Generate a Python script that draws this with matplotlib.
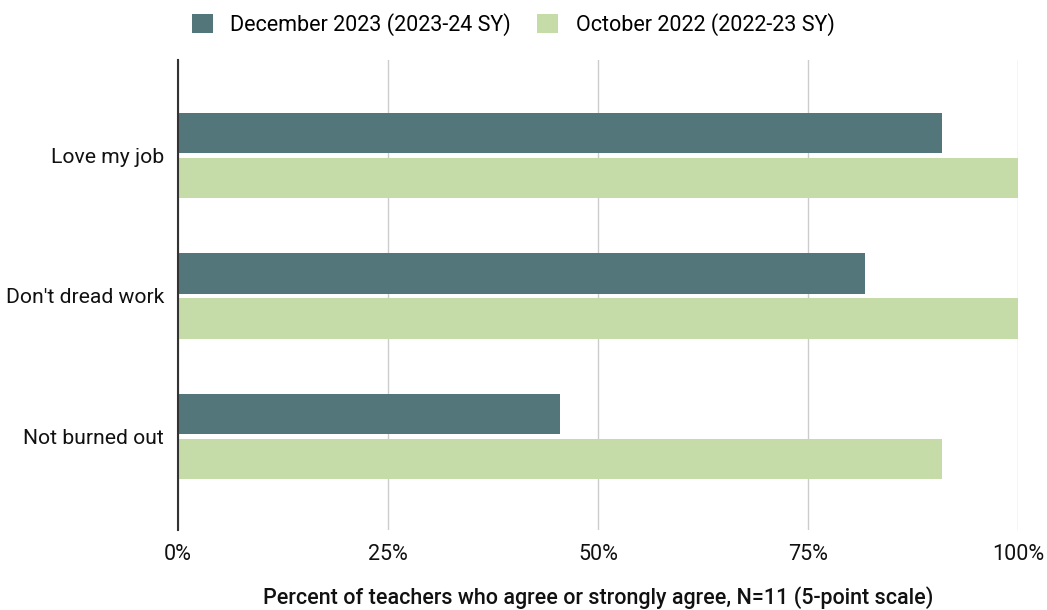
import numpy as np
import matplotlib.pyplot as plt
from matplotlib.ticker import PercentFormatter

plt.rcParams['font.family'] = ['Roboto', 'DejaVu Sans']

categorias = ["Love my job", "Don't dread work", "Not burned out"]
dic_2023 = [90.91, 81.82, 45.45]
oct_2022 = [100.0, 100.0, 90.91]
series = ["December 2023 (2023-24 SY)", "October 2022 (2022-23 SY)"]
ticks_x = [0, 25, 50, 75, 100]

color_dic = "#53767a"
color_oct = "#c5dba8"

fig = plt.figure(figsize=(10.47, 6.10), dpi=100)
ax = fig.add_axes([0.170, 0.131, 0.8023, 0.771])

y = np.arange(len(categorias))
h = 0.285
ax.barh(y - 0.16, dic_2023, height=h, color=color_dic, label=series[0], zorder=3)
ax.barh(y + 0.16, oct_2022, height=h, color=color_oct, label=series[1], zorder=3)

ax.set_xlim(0, 100)
ax.set_ylim(2.665, -0.68)
ax.set_xticks(ticks_x)
ax.xaxis.set_major_formatter(PercentFormatter(decimals=0))
ax.set_yticks(y)
ax.set_yticklabels(categorias, fontsize=15.2, color="#111111")
ax.tick_params(axis='x', labelsize=15.5, colors="#111111", length=0, pad=10)
ax.tick_params(axis='y', length=0, pad=10)
ax.grid(axis='x', color="#cccccc", linewidth=1, zorder=0)

for s in ['top', 'right', 'bottom']:
    ax.spines[s].set_visible(False)
ax.spines['left'].set_color("#333333")
ax.spines['left'].set_linewidth(1.5)
ax.spines['left'].set_zorder(4)

ax.set_xlabel("Percent of teachers who agree or strongly agree, N=11 (5-point scale)",
              fontsize=15.5, fontweight='medium', color="#111111", labelpad=15)

fig.legend(loc='upper center', bbox_to_anchor=(0.49, 1.01), ncol=2, frameon=False,
           fontsize=15.5, handlelength=1.0, handleheight=1.0, columnspacing=1.2,
           handletextpad=0.8)

fig.savefig("out.png", dpi=100)
